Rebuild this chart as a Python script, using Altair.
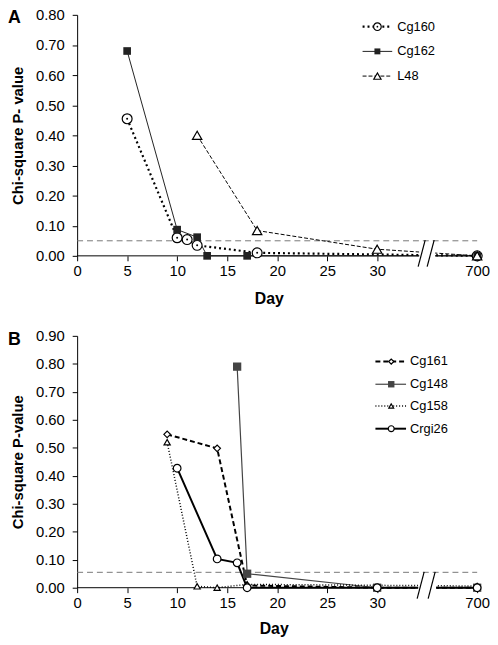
import altair as alt
import pandas as pd

# ---------------- data ----------------
# Panel A
a_names = ["Cg160", "Cg162", "L48"]
a_days = {
    "Cg160": [5, 10, 11, 12, 18, 700],
    "Cg162": [5, 10, 12, 13, 17, 700],
    "L48": [12, 18, 30, 700],
}
a_pvals = {
    "Cg160": [0.455, 0.060, 0.054, 0.035, 0.010, 0.0],
    "Cg162": [0.680, 0.087, 0.062, 0.0, 0.0, 0.0],
    "L48": [0.400, 0.084, 0.022, 0.0],
}
a_ref = 0.05

# Panel B
b_names = ["Cg161", "Cg148", "Cg158", "Crgi26"]
b_days = {
    "Cg161": [9, 14, 17, 30, 700],
    "Cg148": [16, 17, 30, 700],
    "Cg158": [9, 12, 14, 17, 700],
    "Crgi26": [10, 14, 16, 17, 30, 700],
}
b_pvals = {
    "Cg161": [0.548, 0.498, 0.008, 0.0, 0.0],
    "Cg148": [0.790, 0.050, 0.0, 0.0],
    "Cg158": [0.520, 0.005, 0.0, 0.012, 0.006],
    "Crgi26": [0.427, 0.103, 0.089, 0.0, 0.0, 0.0],
}
b_ref = 0.055

x_tick_values = [0, 5, 10, 15, 20, 25, 30, 40]
a_y_ticks = [0.0, 0.1, 0.2, 0.3, 0.4, 0.5, 0.6, 0.7, 0.8]
b_y_ticks = [0.0, 0.1, 0.2, 0.3, 0.4, 0.5, 0.6, 0.7, 0.8, 0.9]

# ---------------- styles ----------------
FONT = "Liberation Sans"
styles = {
    "Cg160": dict(dash=[2, 3], width=2.2, shape="circle", filled=False, size=100, dot=True, color="black"),
    "Cg162": dict(dash=None, width=1.0, shape="square", filled=True, size=60, dot=False, color="#222222"),
    "L48": dict(dash=[4, 2], width=1.0, shape="triangle-up", filled=False, size=90, dot=False, color="black"),
    "Cg161": dict(dash=[5, 3], width=2.0, shape="diamond", filled=False, size=45, dot=False, color="black"),
    "Cg148": dict(dash=None, width=1.2, shape="square", filled=True, size=70, dot=False, color="#444444"),
    "Cg158": dict(dash=[1, 2], width=1.5, shape="triangle-up", filled=False, size=40, dot=False, color="black"),
    "Crgi26": dict(dash=None, width=2.0, shape="circle", filled=False, size=60, dot=False, color="black"),
}


def point_kw(st, scale=1.0):
    if st["filled"]:
        return {"shape": st["shape"], "filled": True, "color": st["color"],
                "size": st["size"] * scale, "opacity": 1}
    return {"shape": st["shape"], "filled": True, "fill": "white", "stroke": "black",
            "strokeWidth": 1.2, "size": st["size"] * scale, "opacity": 1}


def line_kw(st):
    kw = dict(color=st["color"], strokeWidth=st["width"])
    if st["dash"]:
        kw["strokeDash"] = st["dash"]
    return kw


XCALC = "datum.day > 100 ? 40 : datum.day"


def panel(names, days, pvals, ref, ymax, yticks, ytitle, width, height, letter,
          letter_xy, leg_x, leg_rows, day_title_x, day_title_y, brk):
    X = alt.X("xpos:Q", scale=alt.Scale(domain=[0, 40], nice=False, zero=False),
              axis=alt.Axis(values=x_tick_values, labelExpr="datum.value == 40 ? '700' : datum.label",
                            domain=False, grid=False, tickSize=5, labelPadding=3, labelFontSize=15,
                            title="Day", titleFontSize=16, titleFontWeight="bold",
                            titleX=day_title_x, titleY=day_title_y, titleBaseline="alphabetic",
                            titleAlign="center", labelFlush=False))
    Y = alt.Y("p:Q", scale=alt.Scale(domain=[0, ymax], nice=False),
              axis=alt.Axis(values=yticks, format=".2f", grid=False, tickSize=5, labelPadding=8,
                            labelFontSize=15, title=ytitle, titleFontSize=15, titleFontWeight="bold",
                            titlePadding=10))
    one = pd.DataFrame({"k": [0]})
    layers = []
    # reference line
    layers.append(alt.Chart(pd.DataFrame({"p": [ref], "xpos": [0], "x2": [40]})).mark_rule(
        color="#777777", strokeDash=[6, 4], strokeWidth=1).encode(x=X, x2="x2:Q", y=Y))
    # series lines
    for n in names:
        df = pd.DataFrame({"day": days[n], "p": pvals[n]})
        layers.append(alt.Chart(df).transform_calculate(xpos=XCALC)
                      .mark_line(**line_kw(styles[n])).encode(x=X, y=Y))
    # axis break: white cover, axis segments, slashes
    b0, b1 = brk
    layers.append(alt.Chart(pd.DataFrame({"xpos": [b0], "x2": [b1]})).mark_rect(color="white").encode(
        x=X, x2="x2:Q", y=alt.value(height - 9), y2=alt.value(height + 4)))
    layers.append(alt.Chart(pd.DataFrame({"xpos": [0, b1], "x2": [b0, 40]})).mark_rule(
        color="black", strokeWidth=1).encode(x=X, x2="x2:Q", y=alt.value(height)))
    layers.append(alt.Chart(pd.DataFrame({"xpos": [b0 - 0.1, b1 - 0.8], "x2": [b0 + 0.6, b1 - 0.1]})).mark_rule(
        color="black", strokeWidth=1.2).encode(x=X, x2="x2:Q", y=alt.value(height + 11), y2=alt.value(height - 16)))
    # series markers
    for n in names:
        st = styles[n]
        df = pd.DataFrame({"day": days[n], "p": pvals[n]})
        layers.append(alt.Chart(df).transform_calculate(xpos=XCALC)
                      .mark_point(**point_kw(st)).encode(x=X, y=Y))
        if st["dot"]:
            layers.append(alt.Chart(df).transform_calculate(xpos=XCALC)
                          .mark_point(shape="circle", filled=True, color="black", size=4, opacity=1)
                          .encode(x=X, y=Y))
    # legend
    lx0, lx1, lxm, lxt = leg_x
    for n, ly in zip(names, leg_rows):
        st = styles[n]
        layers.append(alt.Chart(one).mark_rule(**line_kw(st)).encode(
            x=alt.value(lx0), x2=alt.value(lx1), y=alt.value(ly)))
        layers.append(alt.Chart(one).mark_point(**point_kw(st, 0.6)).encode(x=alt.value(lxm), y=alt.value(ly)))
        if st["dot"]:
            layers.append(alt.Chart(one).mark_point(shape="circle", filled=True, color="black", size=3,
                                                    opacity=1).encode(x=alt.value(lxm), y=alt.value(ly)))
        layers.append(alt.Chart(pd.DataFrame({"t": [n]})).mark_text(
            align="left", baseline="middle", fontSize=13, font=FONT, color="black").encode(
            x=alt.value(lxt), y=alt.value(ly), text="t:N"))
    # panel letter
    layers.append(alt.Chart(pd.DataFrame({"t": [letter]})).mark_text(
        align="left", baseline="middle", fontSize=18, fontWeight="bold", font=FONT, color="black").encode(
        x=alt.value(letter_xy[0]), y=alt.value(letter_xy[1]), text="t:N"))
    return alt.layer(*layers).properties(width=width, height=height)


chart_a = panel(a_names, a_days, a_pvals, a_ref, 0.8, a_y_ticks, "Chi-square P- value",
                405, 244, "A", (-70, 3), (289, 319, 304, 324), [12, 37, 62], 194, 48, (34.2, 35.8))
chart_b = panel(b_names, b_days, b_pvals, b_ref, 0.9, b_y_ticks, "Chi-square P-value",
                405, 255, "B", (-70, 4), (302, 333, 318, 337), [26, 49, 71, 94], 199, 46, (34.1, 35.9))

chart = alt.vconcat(chart_a, chart_b, spacing=81, bounds="flush").properties(
    padding={"left": 0, "top": -4, "right": 0, "bottom": 0}
).configure_view(stroke=None).configure_axis(
    domainColor="black", tickColor="black", labelColor="black", titleColor="black",
    labelFont=FONT, titleFont=FONT, domainWidth=1, tickWidth=1
)

chart.save("out.html", embed_options={"renderer": "svg", "actions": False})
